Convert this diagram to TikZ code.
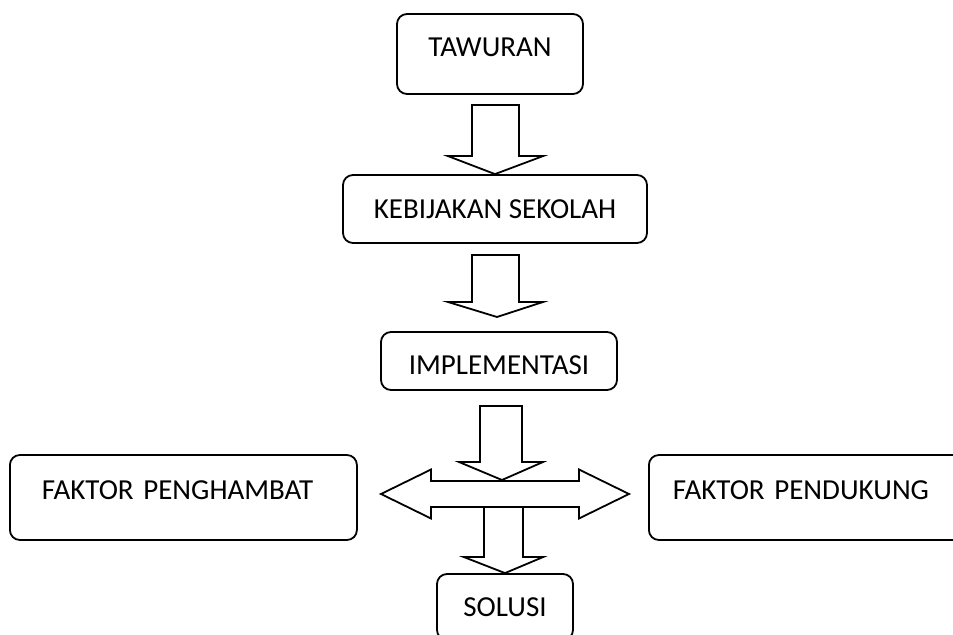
\documentclass[tikz,border=0pt]{standalone}
\usepackage{fontspec}
\setmainfont{Carlito}
\usetikzlibrary{positioning,calc}

\tikzset{
  box/.style={draw, line width=0.9pt, rounded corners=5pt, inner sep=0pt, align=center},
  side/.style={box, minimum height=42.5pt, text depth=7.5pt, align=left},
  blk/.style={draw, fill=white, line width=0.9pt, line join=miter}
}

% hollow block arrow pointing down: top, tip, shaft half width, head half width, head length
\newcommand{\downblock}[5]{%
  \draw[blk] let \p1=(#1), \p2=(#2) in
    (\x1-#3,\y1) -- (\x1+#3,\y1) -- (\x1+#3,\y2+#5) -- (\x1+#4,\y2+#5) -- (\p2)
    -- (\x1-#4,\y2+#5) -- (\x1-#3,\y2+#5) -- cycle;}

\begin{document}
\begin{tikzpicture}[x=0.5pt, y=-0.5pt, font=\fontsize{14.5}{17}\selectfont]
\useasboundingbox (0,0) rectangle (953,635);
\clip (0,0) rectangle (953,635);

\node[box, minimum width=93pt, minimum height=40pt, text depth=7pt] (taw) at (490,54) {TAWURAN};
\node[box, minimum width=152pt, minimum height=34pt] (keb) at (495,209) {KEBIJAKAN SEKOLAH};
\node[box, minimum width=118pt, minimum height=29pt, text height=13.3pt, text depth=0pt] (imp) at (499,361) {IMPLEMENTASI};
\node[side, anchor=west, inner xsep=16pt, text width=141.5pt] (hambat) at (9,497.5) {FAKTOR PENGHAMBAT};
\node[side, anchor=west, inner xsep=12pt, text width=149.5pt] (dukung) at (648,497.5) {FAKTOR PENDUKUNG};
\node[box, minimum width=68pt, minimum height=33pt] (sol) at (505,607) {SOLUSI};

\coordinate (a1) at (495.5,105);
\coordinate (a2) at (495.5,255);
\coordinate (a2tip) at (497,317);
\coordinate (a3) at (501,406);
\coordinate (a3tip) at (502,480);
\coordinate (a4) at (503.5,507);
\coordinate (dl) at (381,494);
\coordinate (dr) at (629,494);

\downblock{a1}{keb.north}{11.75pt}{23.75pt}{9pt}
\downblock{a2}{a2tip}{11.75pt}{23.75pt}{7.5pt}

\draw[blk] let \p1=(dl), \p2=(dr) in
  (\p1) -- (\x1+25pt,\y1+12.25pt) -- (\x1+25pt,\y1+6.5pt) -- (\x2-25pt,\y2+6.5pt)
  -- (\x2-25pt,\y2+12.25pt) -- (\p2) -- (\x2-25pt,\y2-12.25pt) -- (\x2-25pt,\y2-6.5pt)
  -- (\x1+25pt,\y1-6.5pt) -- (\x1+25pt,\y1-12.25pt) -- cycle;

\downblock{a3}{a3tip}{10.5pt}{21pt}{9pt}
\downblock{a4}{sol.north}{9.75pt}{19.75pt}{8pt}

\end{tikzpicture}
\end{document}
